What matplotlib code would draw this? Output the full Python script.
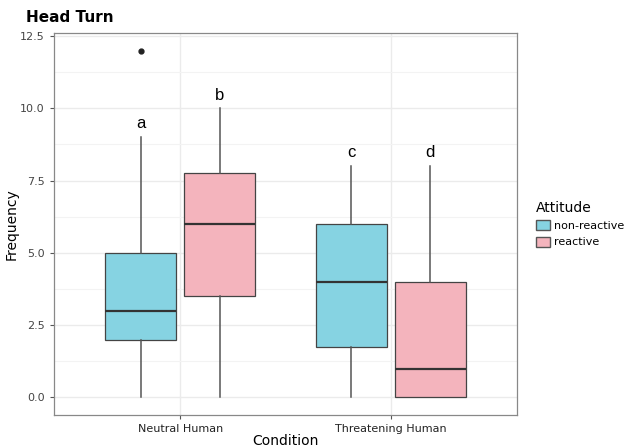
import numpy as np
import matplotlib
matplotlib.use("Agg")
from matplotlib import pyplot as plt
from matplotlib.patches import Patch
from matplotlib.ticker import MultipleLocator

conditions = ["Neutral Human", "Threatening Human"]
attitudes = ["non-reactive", "reactive"]
colors = {"non-reactive": "#86D3E2", "reactive": "#F4B4BD"}

# five-number summaries per condition / attitude: (whislo, q1, med, q3, whishi)
stats = {
    ("Neutral Human", "non-reactive"): (0, 2, 3, 5, 9),
    ("Neutral Human", "reactive"): (0, 3.5, 6, 7.75, 10),
    ("Threatening Human", "non-reactive"): (0, 1.75, 4, 6, 8),
    ("Threatening Human", "reactive"): (0, 0, 1, 4, 8),
}
outliers = {("Neutral Human", "non-reactive"): [12]}
letters = {
    ("Neutral Human", "non-reactive"): "a",
    ("Neutral Human", "reactive"): "b",
    ("Threatening Human", "non-reactive"): "c",
    ("Threatening Human", "reactive"): "d",
}

fig = plt.figure(figsize=(6.24, 4.48), dpi=100)
ax = fig.add_axes([0.0865, 0.074, 0.742, 0.852])

dodge = 0.1875
bw = 0.3375
for i, c in enumerate(conditions):
    for j, a in enumerate(attitudes):
        lo, q1, med, q3, hi = stats[(c, a)]
        pos = i + 1 + (j - 0.5) * 2 * dodge
        bxp = [dict(whislo=lo, q1=q1, med=med, q3=q3, whishi=hi,
                    fliers=outliers.get((c, a), []))]
        ax.bxp(bxp, positions=[pos], widths=bw, patch_artist=True, showcaps=False,
               boxprops=dict(facecolor=colors[a], edgecolor="#444444", linewidth=0.9),
               medianprops=dict(color="#333333", linewidth=1.6),
               whiskerprops=dict(color="#555555", linewidth=1.1),
               flierprops=dict(marker="o", markersize=3.5, markerfacecolor="#222222",
                               markeredgecolor="#222222"))
        ax.text(pos, hi + 0.2, letters[(c, a)], ha="center", va="bottom", fontsize=12,
                color="black", family="Liberation Sans")

ax.set_xlim(0.4, 2.6)
ax.set_ylim(-0.6, 12.6)
ax.set_xticks([1, 2])
ax.set_xticklabels(conditions)
ax.yaxis.set_major_locator(MultipleLocator(2.5))
ax.yaxis.set_minor_locator(MultipleLocator(1.25))
ax.set_yticklabels([f"{v:.1f}" for v in ax.get_yticks()])
ax.set_ylim(-0.6, 12.6)
ax.grid(True, which="major", color="#EBEBEB", linewidth=1.0)
ax.grid(True, which="minor", axis="y", color="#F3F3F3", linewidth=0.8)
ax.set_axisbelow(True)
for s in ax.spines.values():
    s.set_color("#888888")
    s.set_linewidth(0.9)
ax.tick_params(axis="both", which="major", length=3, color="#555555", labelcolor="#444444",
               labelsize=8)
ax.tick_params(axis="y", which="minor", length=0)
for lab in ax.get_xticklabels():
    lab.set_color("#222222")

ax.set_xlabel("Condition", fontsize=10, labelpad=0)
ax.set_ylabel("Frequency", fontsize=10, labelpad=1)
fig.text(0.042, 0.945, "Head Turn", fontsize=11, fontweight="bold", va="bottom")

handles = [Patch(facecolor=colors[a], edgecolor="#555555", label=a) for a in attitudes]
leg = ax.legend(handles=handles, title="Attitude", loc="center left",
                bbox_to_anchor=(1.02, 0.5), frameon=False, fontsize=8,
                title_fontsize=10, handlelength=1.2, handleheight=1.0,
                handletextpad=0.4, labelspacing=0.5)
leg._legend_box.align = "left"

fig.savefig("out.png", dpi=100)
